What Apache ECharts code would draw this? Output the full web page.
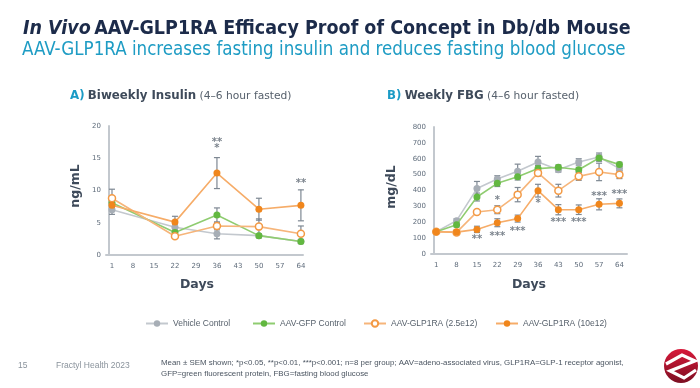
<!DOCTYPE html>
<html><head><meta charset="utf-8">
<script src="https://cdn.jsdelivr.net/npm/echarts@6/dist/echarts.min.js"></script>
<style>html,body{margin:0;padding:0;background:#fff}#c{width:700px;height:388px}</style>
</head><body><div id="c"></div>
<script>
// ---- data ----
const seriesNames = ['Vehicle Control', 'AAV-GFP Control', 'AAV-GLP1RA (2.5e12)', 'AAV-GLP1RA (10e12)'];
const dayTicks = [1, 8, 15, 22, 29, 36, 43, 50, 57, 64];

const insulinDays = [1, 22, 36, 50, 64];
const insVehicle = [7.0, 4.3, 3.3, 3.0, 2.1];
const insVehicleSem = [0.7, 0.5, 0.8, 0.3, 0.3];
const insGFP = [8.1, 3.5, 6.2, 3.0, 2.1];
const insGFPSem = [0.8, 0.5, 1.1, 0.3, 0.3];
const insLow = [8.8, 2.9, 4.5, 4.4, 3.3];
const insLowSem = [1.4, 0.3, 0.6, 1.2, 1.2];
const insHigh = [7.7, 5.1, 12.7, 7.1, 7.7];
const insHighSem = [0.8, 0.9, 2.4, 1.7, 2.4];
const insSig = [[36, 17.8, '**'], [36, 16.8, '*'], [64, 11.4, '**']];

const fbgDays = [1, 8, 15, 22, 29, 36, 43, 50, 57, 64];
const fbgVehicle = [140, 210, 412, 473, 521, 580, 531, 580, 611, 538];
const fbgVehicleSem = [8, 12, 45, 20, 45, 35, 15, 20, 25, 15];
const fbgGFP = [140, 185, 359, 445, 486, 538, 546, 531, 605, 563];
const fbgGFPSem = [8, 15, 25, 20, 20, 20, 15, 15, 20, 15];
const fbgLow = [140, 136, 265, 279, 374, 511, 399, 489, 517, 500];
const fbgLowSem = [8, 15, 10, 25, 45, 20, 40, 25, 55, 25];
const fbgHigh = [140, 138, 155, 197, 223, 399, 279, 279, 313, 319];
const fbgHighSem = [8, 10, 20, 25, 22, 40, 32, 30, 35, 28];
const fbgSig = [[15, 107, '**'], [22, 349, '*'], [22, 122, '***'], [29, 158, '***'], [36, 332, '*'],
                [43, 212, '***'], [50, 212, '***'], [57, 374, '***'], [64, 385, '***']];

// ---- styles ----
const styles = [
  {line: '#c3c8ce', mark: '#a7aeb6', border: '#a7aeb6'},
  {line: '#8fcc70', mark: '#62b840', border: '#62b840'},
  {line: '#f6b57a', mark: '#ffffff', border: '#f39a45'},
  {line: '#f6ac68', mark: '#f0861c', border: '#f0861c'}
];
const errColor = '#7e8893';
const axisColor = '#c3c8ce';
const tickColor = '#5f6c7b';
const darkText = '#3e4a5a';
const smallFont = 'Liberation Sans';

function pairs(xs, ys) { return xs.map((x, i) => [x, ys[i]]); }
function triples(xs, ys, es) { return xs.map((x, i) => [x, ys[i], es[i]]); }

function errSeries(idx, xs, ys, es, capW) {
  return {
    type: 'custom', xAxisIndex: idx, yAxisIndex: idx, z: 1, silent: true,
    data: triples(xs, ys, es),
    renderItem: function (params, api) {
      const x = api.value(0), y = api.value(1), e = api.value(2);
      const t = api.coord([x, y + e]), b = api.coord([x, y - e]);
      const st = {stroke: errColor, lineWidth: 1.2};
      return {type: 'group', children: [
        {type: 'line', shape: {x1: t[0], y1: t[1], x2: b[0], y2: b[1]}, style: st},
        {type: 'line', shape: {x1: t[0] - capW, y1: t[1], x2: t[0] + capW, y2: t[1]}, style: st},
        {type: 'line', shape: {x1: b[0] - capW, y1: b[1], x2: b[0] + capW, y2: b[1]}, style: st}
      ]};
    }
  };
}
function lineSeries(idx, k, xs, ys) {
  const s = styles[k];
  return {
    type: 'line', name: seriesNames[k], xAxisIndex: idx, yAxisIndex: idx, z: 2 + k,
    data: pairs(xs, ys), symbol: 'circle', symbolSize: 7, showSymbol: true,
    lineStyle: {color: s.line, width: 1.6},
    itemStyle: {color: s.mark, borderColor: s.border, borderWidth: k === 2 ? 1.5 : 0},
    animation: false
  };
}
function sigSeries(idx, arr) {
  return {
    type: 'scatter', xAxisIndex: idx, yAxisIndex: idx, symbolSize: 0, z: 10, silent: true,
    data: arr,
    label: {show: true, position: 'inside', formatter: p => p.value[2], color: '#5b6571',
            fontSize: 10, fontFamily: 'DejaVu Sans', fontWeight: 'bold', offset: [0, 2]}
  };
}

const xAxisBase = {
  type: 'value', splitLine: {show: false}, axisTick: {show: false},
  axisLine: {show: true, onZero: false, lineStyle: {color: axisColor, width: 2}},
  axisLabel: {customValues: dayTicks, color: tickColor, fontSize: 7, fontFamily: 'DejaVu Sans', margin: 8}
};
const yAxisBase = {
  type: 'value', min: 0, splitLine: {show: false}, axisTick: {show: false},
  axisLine: {show: true, lineStyle: {color: axisColor, width: 2}},
  axisLabel: {color: tickColor, fontSize: 7, fontFamily: 'DejaVu Sans', margin: 5}
};

const legendPos = [140, 247, 358, 490];
const legends = seriesNames.map((n, i) => ({
  data: [n], left: legendPos[i], top: 314, itemWidth: 22, itemHeight: 8, itemGap: 0, selectedMode: false,
  textStyle: {fontSize: 8.5, fontFamily: smallFont, color: '#555f6a'}
}));

const series = [
  errSeries(0, insulinDays, insVehicle, insVehicleSem, 3),
  errSeries(0, insulinDays, insGFP, insGFPSem, 3),
  errSeries(0, insulinDays, insLow, insLowSem, 3),
  errSeries(0, insulinDays, insHigh, insHighSem, 3),
  lineSeries(0, 0, insulinDays, insVehicle),
  lineSeries(0, 1, insulinDays, insGFP),
  lineSeries(0, 2, insulinDays, insLow),
  lineSeries(0, 3, insulinDays, insHigh),
  sigSeries(0, insSig),
  errSeries(1, fbgDays, fbgVehicle, fbgVehicleSem, 3),
  errSeries(1, fbgDays, fbgGFP, fbgGFPSem, 3),
  errSeries(1, fbgDays, fbgLow, fbgLowSem, 3),
  errSeries(1, fbgDays, fbgHigh, fbgHighSem, 3),
  lineSeries(1, 0, fbgDays, fbgVehicle),
  lineSeries(1, 1, fbgDays, fbgGFP),
  lineSeries(1, 2, fbgDays, fbgLow),
  lineSeries(1, 3, fbgDays, fbgHigh),
  sigSeries(1, fbgSig)
];

const txt = (x, y, text, o) => ({type: 'text', x: x, y: y, silent: true,
  style: Object.assign({text: text, verticalAlign: 'middle', align: 'left'}, o)});

const graphic = [
  txt(23, 29, '{i|In Vivo} {b|AAV-GLP1RA Efficacy Proof of Concept in Db/db Mouse}', {
    rich: {
      i: {fontFamily: 'DejaVu Sans Condensed', fontWeight: 'bold', fontStyle: 'italic', fontSize: 19.5, fill: '#1c2b4a'},
      b: {fontFamily: 'DejaVu Sans Condensed', fontWeight: 'bold', fontSize: 19.5, fill: '#1c2b4a'}
    }}),
  txt(22, 50, 'AAV-GLP1RA increases fasting insulin and reduces fasting blood glucose', {
    fontFamily: 'DejaVu Sans Condensed', fontSize: 18.6, fill: '#1e9cc4'}),
  txt(70, 96, '{a|A)} {b|Biweekly Insulin} {c|(4–6 hour fasted)}', {
    rich: {
      a: {fontFamily: 'DejaVu Sans', fontWeight: 'bold', fontSize: 11.8, fill: '#1b9bc6'},
      b: {fontFamily: 'DejaVu Sans', fontWeight: 'bold', fontSize: 11.8, fill: darkText},
      c: {fontFamily: 'DejaVu Sans', fontSize: 10.7, fill: '#56606c'}
    }}),
  txt(387, 96, '{a|B)} {b|Weekly FBG} {c|(4–6 hour fasted)}', {
    rich: {
      a: {fontFamily: 'DejaVu Sans', fontWeight: 'bold', fontSize: 11.8, fill: '#1b9bc6'},
      b: {fontFamily: 'DejaVu Sans', fontWeight: 'bold', fontSize: 11.8, fill: darkText},
      c: {fontFamily: 'DejaVu Sans', fontSize: 10.7, fill: '#56606c'}
    }}),
  {type: 'text', x: 76, y: 186, rotation: Math.PI / 2, silent: true,
   style: {text: 'ng/mL', align: 'center', verticalAlign: 'middle', fontFamily: 'DejaVu Sans', fontWeight: 'bold', fontSize: 12.5, fill: darkText}},
  {type: 'text', x: 392, y: 187, rotation: Math.PI / 2, silent: true,
   style: {text: 'mg/dL', align: 'center', verticalAlign: 'middle', fontFamily: 'DejaVu Sans', fontWeight: 'bold', fontSize: 12.5, fill: darkText}},
  txt(197, 285, 'Days', {align: 'center', fontFamily: 'DejaVu Sans', fontWeight: 'bold', fontSize: 12.5, fill: darkText}),
  txt(529, 285, 'Days', {align: 'center', fontFamily: 'DejaVu Sans', fontWeight: 'bold', fontSize: 12.5, fill: darkText}),
  txt(18, 366, '15', {fontFamily: smallFont, fontSize: 8.5, fill: '#8a939c'}),
  txt(56, 366, 'Fractyl Health 2023', {fontFamily: smallFont, fontSize: 8.5, fill: '#8a939c'}),
  txt(161, 363, 'Mean ± SEM shown; *p<0.05, **p<0.01, ***p<0.001; n=8 per group; AAV=adeno-associated virus, GLP1RA=GLP-1 receptor agonist,', {
    fontFamily: smallFont, fontSize: 7.9, fill: '#4b5561'}),
  txt(161, 374, 'GFP=green fluorescent protein, FBG=fasting blood glucose', {
    fontFamily: smallFont, fontSize: 7.9, fill: '#4b5561'}),
  {type: 'circle', silent: true, shape: {cx: 681, cy: 366, r: 17},
   style: {fill: new echarts.graphic.LinearGradient(0, 0, 0, 1, [{offset: 0, color: '#d8193a'}, {offset: 1, color: '#7c0f22'}])}},
  {type: 'polyline', silent: true, shape: {points: [[666, 364], [682, 355], [695, 361], [670, 371], [684, 378], [696, 370]]},
   style: {stroke: '#ffffff', lineWidth: 3.2, fill: null}}
];

const option = {
  animation: false,
  backgroundColor: '#ffffff',
  grid: [
    {left: 106, top: 126, width: 197, height: 129},
    {left: 431, top: 127, width: 196, height: 127}
  ],
  xAxis: [
    Object.assign({}, xAxisBase, {gridIndex: 0, min: -1, max: 64.7}),
    Object.assign({}, xAxisBase, {gridIndex: 1, min: -0.8, max: 66.6})
  ],
  yAxis: [
    Object.assign({}, yAxisBase, {gridIndex: 0, max: 20, interval: 5}),
    Object.assign({}, yAxisBase, {gridIndex: 1, max: 800, interval: 100})
  ],
  legend: legends,
  series: series,
  graphic: graphic
};
const chart = echarts.init(document.getElementById('c'), null, {renderer: 'canvas'});
chart.setOption(option);
</script>
</body></html>
